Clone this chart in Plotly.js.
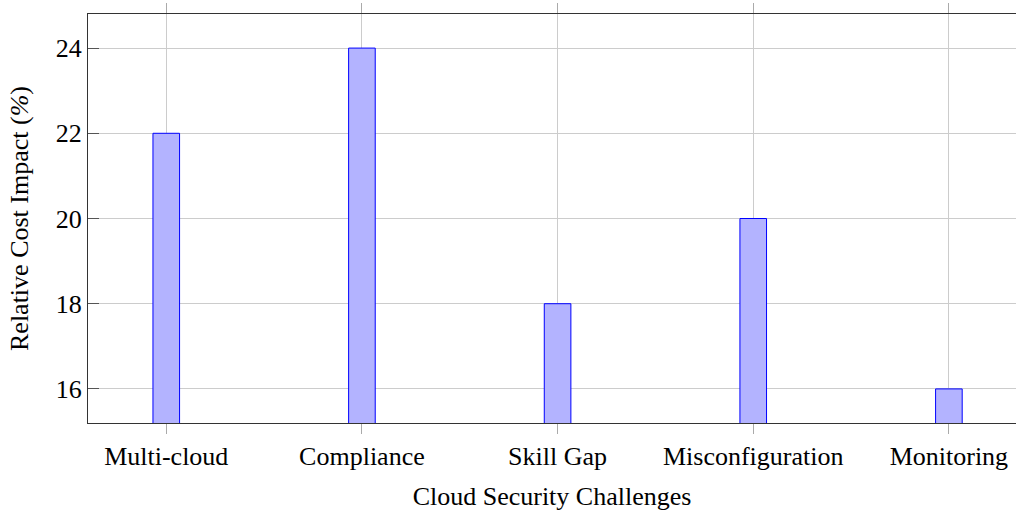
<!DOCTYPE html>
<html>
<head>
<meta charset="utf-8">
<script src="https://cdn.plot.ly/plotly-3.0.1.min.js"></script>
<style>html,body{margin:0;padding:0;background:#fff;}#chart{width:1016px;height:511px;}</style>
</head>
<body>
<div id="chart"></div>
<script>
const categories = ["Multi-cloud", "Compliance", "Skill Gap", "Misconfiguration", "Monitoring"];
const costImpact = [22, 24, 18, 20, 16];
const yTicks = [16, 18, 20, 22, 24];

const font = {family: "Liberation Serif", size: 26, color: "#000"};

const trace = {
  type: "bar",
  x: categories,
  y: costImpact,
  base: 0,
  width: 0.136,
  marker: {color: "#b3b3ff", line: {color: "#0000ff", width: 1}},
  hoverinfo: "x+y"
};

const layout = {
  width: 1016, height: 511,
  margin: {l: 88, r: 0, t: 14, b: 88},
  paper_bgcolor: "#fff", plot_bgcolor: "#fff",
  font: font,
  showlegend: false,
  xaxis: {
    type: "category",
    range: [-0.4, 4.343],
    showgrid: true, gridcolor: "#cccccc", gridwidth: 1,
    showline: true, linecolor: "#333", linewidth: 1,
    mirror: "allticks",
    ticks: "outside", ticklen: 10, tickcolor: "#aaaaaa", tickwidth: 1,
    tickfont: font,
    title: {text: "Cloud Security Challenges", font: font, standoff: 17},
    zeroline: false
  },
  yaxis: {
    range: [15.2, 24.8],
    tickvals: yTicks,
    ticktext: yTicks.map(String),
    showgrid: true, gridcolor: "#cccccc", gridwidth: 1,
    showline: true, linecolor: "#333", linewidth: 1,
    ticks: "inside", ticklen: 11, tickcolor: "#555", tickwidth: 1,
    tickfont: font,
    title: {text: "Relative Cost Impact (<i>%</i>)", font: font, standoff: 19},
    zeroline: false
  }
};

Plotly.newPlot("chart", [trace], layout, {displayModeBar: false, staticPlot: true});
</script>
</body>
</html>
